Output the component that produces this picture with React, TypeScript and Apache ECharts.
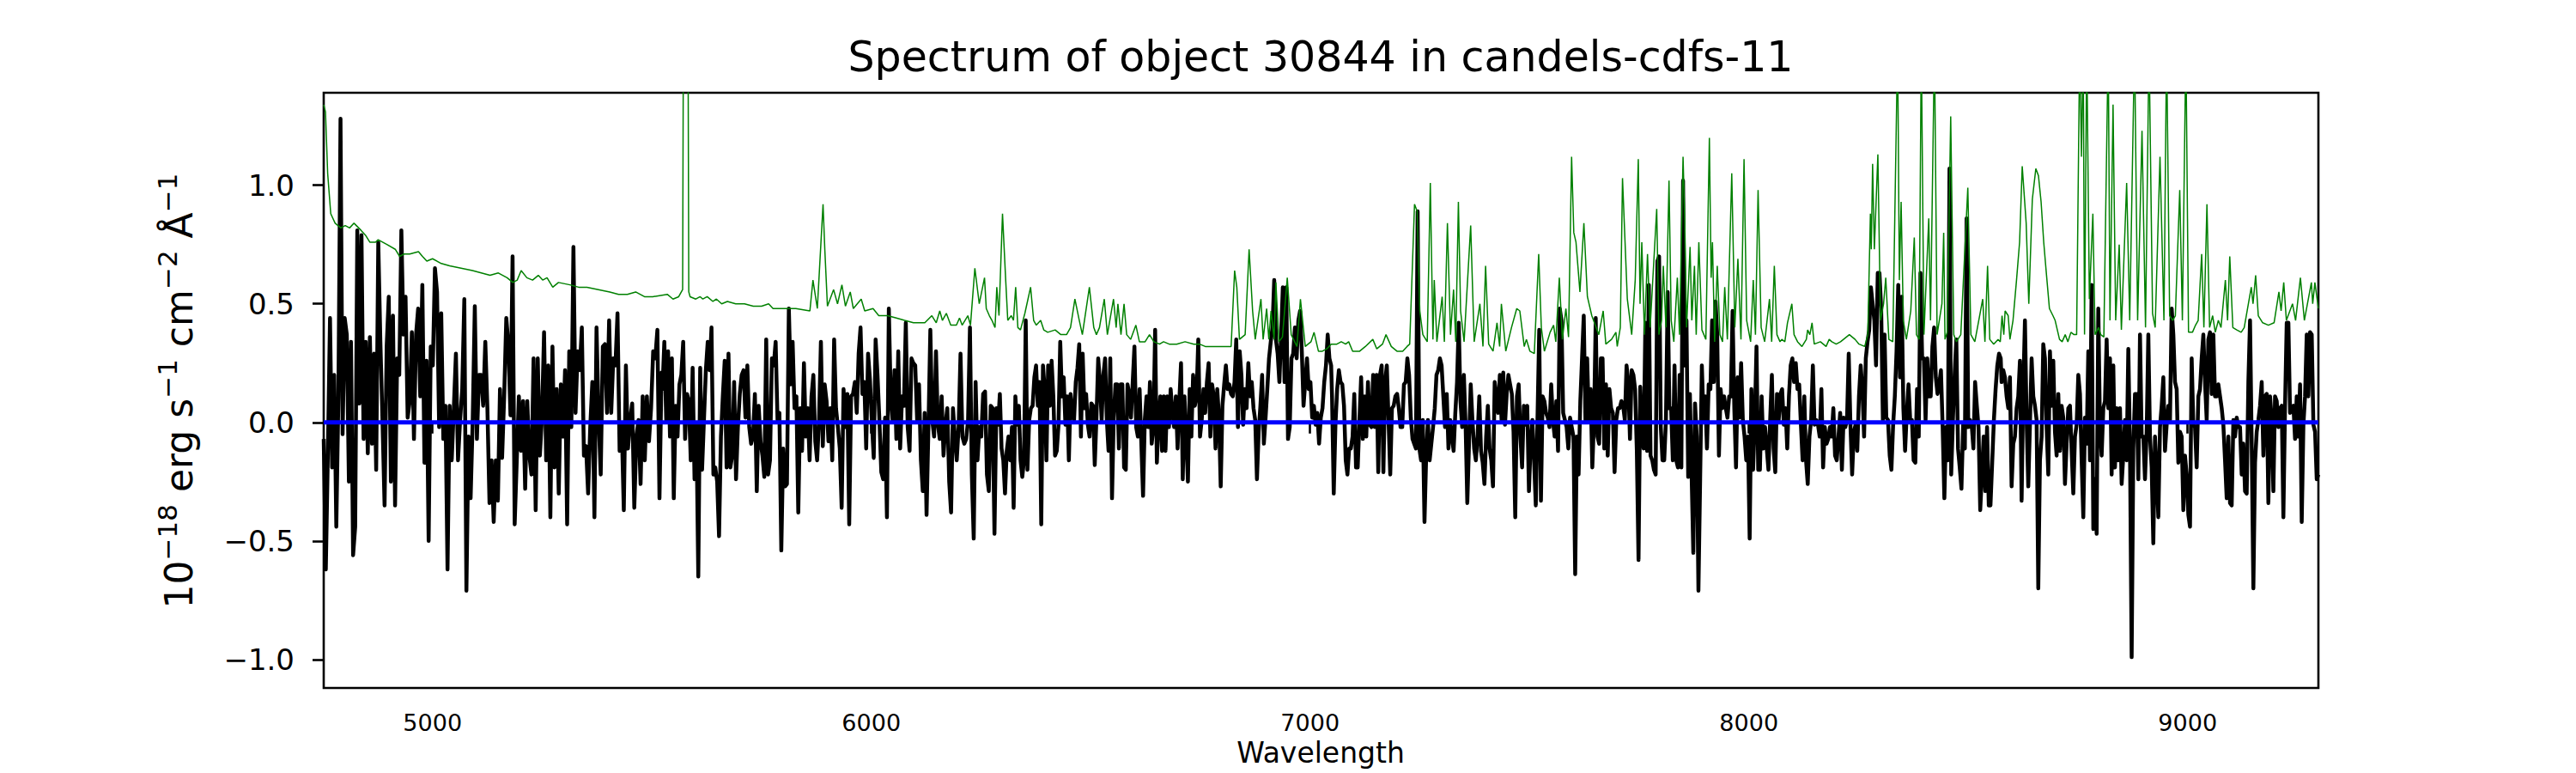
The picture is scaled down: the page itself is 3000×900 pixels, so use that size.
import React, { useEffect, useRef } from "react";
import * as echarts from "echarts";

const FONT = "DejaVu Sans";
const TITLE = "Spectrum of object 30844 in candels-cdfs-11";
const X_LABEL = "Wavelength";
const X_TICKS = [5000, 6000, 7000, 8000, 9000];
const Y_TICKS = [-1.0, -0.5, 0.0, 0.5, 1.0];
const WAVE_MIN = 4752;
const WAVE_MAX = 9298;
const FLUX_MIN = -1.12;
const FLUX_MAX = 1.39;
const ZERO_LEVEL = 0;

// flux, evenly spread over each wavelength stretch
const FLUX_A = [
  -0.07,-0.62,-0.12,0.44,-0.19,0.20,-0.44,0.11,1.28,-0.05,
  0.44,0.37,-0.25,0.34,-0.56,-0.44,0.81,0.08,0.79,-0.07,
  0.34,-0.13,0.36,-0.09,0.29,-0.20,0.76,0.34,0.01,-0.35,
  0.32,0.53,-0.25,0.45,-0.35,0.27,0.20,0.81,0.37,0.53,
  0.02,0.09,0.38,-0.07,0.37,0.48,0.11,0.58,-0.17,0.26,
  -0.50,0.32,0.24,0.65,0.55,-0.02,0.46,-0.07,0.07,-0.62,
  0.07,-0.16,0.06,0.29,-0.16,0.01,0.14,0.52,-0.71,-0.06,
  -0.32,0.01,0.49,-0.07,0.20,0.20,0.07,0.34,0.06,-0.34,
  -0.16,-0.42,-0.16,-0.33,0.14,-0.15,0.11,0.44,0.33,0.03,
  0.70,-0.43,-0.16,0.11,-0.12,0.09,-0.28,0.09,-0.14,-0.22,
  0.27,-0.37,0.27,-0.14,0.02,0.38,-0.16,0.24,-0.40,0.32,
  -0.19,0.14,-0.30,0.16,-0.06,0.22,-0.43,0.30,-0.02,0.74,
  0.04,0.30,0.22,0.40,-0.14,-0.10,-0.30,-0.02,0.17,-0.40,
  0.40,0.02,-0.22,0.32,0.33,0.04,0.43,0.04,0.27,0.24,
  0.46,-0.12,-0.01,-0.37,0.24,-0.11,0.01,0.08,-0.36,-0.06,
  0.01,-0.26,0.11,-0.16,0.11,-0.08,0.06,0.30,0.27,0.39,
  -0.32,0.21,
];
const FLUX_B = [
  0.14,0.34,0.01,0.30,-0.06,0.27,-0.32,0.07,-0.06,0.16,
  0.20,0.34,-0.07,0.12,0.09,-0.16,0.23,-0.24,-0.01,-0.65,
  0.23,-0.20,0.01,0.22,0.34,0.22,0.40,-0.22,-0.19,-0.25,
  -0.48,-0.06,0.11,0.26,-0.19,0.29,-0.19,-0.14,0.17,-0.24,
  -0.02,0.12,0.20,0.22,0.02,0.24,-0.02,-0.09,-0.06,0.12,
  -0.29,0.07,-0.08,-0.14,-0.23,0.35,-0.22,-0.16,0.27,0.24,
  0.34,0.01,0.04,-0.54,-0.11,-0.27,-0.26,0.48,0.16,0.34,
  0.06,0.11,-0.38,0.06,-0.12,0.25,-0.06,0.06,-0.16,0.11,
  0.20,-0.08,-0.16,0.01,0.34,-0.10,0.16,0.09,-0.08,0.06,
  -0.16,0.35,0.06,-0.02,-0.11,-0.36,0.14,-0.02,0.12,-0.43,
  0.11,0.12,0.17,0.04,0.29,0.40,0.12,0.17,-0.11,0.29,
  0.18,0.00,-0.15,0.35,0.20,0.01,-0.21,-0.24,0.02,-0.40,
  0.48,0.11,0.01,0.22,-0.07,0.30,-0.11,0.11,0.07,0.42,
  -0.02,-0.12,0.27,0.25,0.24,0.01,0.16,-0.16,-0.29,0.04,
  -0.39,-0.02,0.39,0.01,-0.06,0.30,-0.01,-0.07,0.11,-0.14,
  -0.01,0.06,-0.25,-0.38,0.06,-0.06,-0.16,-0.02,0.29,-0.06,
  -0.09,-0.07,0.01,0.40,-0.22,-0.49,0.17,-0.16,-0.02,-0.06,
  0.12,0.13,-0.22,-0.29,0.07,0.06,-0.47,0.06,
];
const FLUX_C = [
  -0.01,0.12,-0.11,-0.16,-0.30,-0.12,-0.06,-0.16,-0.02,-0.36,
  0.11,-0.01,0.07,-0.16,-0.23,-0.16,0.43,-0.20,0.01,0.06,
  0.07,0.19,0.24,0.07,0.17,-0.43,0.24,0.14,-0.16,0.24,
  0.07,0.26,0.11,-0.14,-0.12,-0.01,0.34,0.11,0.19,-0.01,
  0.11,-0.16,0.12,0.04,0.01,0.17,0.23,0.33,-0.06,0.29,
  0.06,0.12,-0.01,-0.06,0.08,0.07,-0.18,0.02,0.27,0.17,
  0.01,0.20,0.27,0.01,-0.12,0.27,-0.32,0.02,0.16,0.16,
  -0.11,0.16,0.16,-0.19,-0.20,0.16,0.12,0.02,0.17,0.32,
  -0.02,-0.06,0.14,-0.09,-0.31,0.01,0.11,-0.02,0.17,-0.09,
  -0.02,0.39,-0.17,0.01,0.11,-0.12,0.11,-0.12,0.11,-0.02,
  0.14,0.04,-0.02,0.11,-0.11,0.09,0.25,-0.24,0.11,-0.06,
  -0.25,0.14,-0.06,0.20,0.07,0.11,0.35,-0.06,0.01,0.14,
  0.04,0.17,0.25,-0.06,0.16,0.11,-0.11,0.14,0.02,-0.27,
  0.07,0.16,0.24,0.14,0.16,0.12,0.11,0.17,0.35,-0.02,
  0.30,0.20,-0.01,0.14,0.06,0.25,0.11,0.17,0.06,0.01,
  -0.24,-0.04,0.07,0.20,-0.09,0.02,0.14,0.27,0.34,0.40,
  0.60,0.35,0.29,0.17,0.37,0.57,0.17,0.57,-0.07,-0.02,
  0.27,0.29,0.40,0.27,0.43,0.47,0.30,0.07,0.17,0.27,
  0.14,0.17,0.02,0.07,-0.01,0.04,-0.09,0.02,0.06,0.17,
  0.24,0.37,0.27,0.24,
];
const FLUX_D = [
  0.11,-0.30,-0.01,0.14,0.22,0.17,0.16,0.07,-0.16,-0.22,
  -0.11,-0.11,-0.06,0.12,-0.19,-0.19,0.01,0.19,-0.07,0.11,
  -0.06,0.17,-0.01,-0.02,0.20,-0.02,0.20,-0.21,0.20,0.24,
  -0.21,0.17,0.24,0.01,-0.22,0.06,0.07,0.11,0.12,0.06,
  -0.02,-0.02,0.16,0.17,0.27,0.20,0.02,-0.07,-0.09,-0.11,
  0.89,-0.11,-0.16,0.01,-0.42,-0.14,0.01,-0.16,-0.09,-0.02,
  0.06,0.20,0.22,0.27,0.24,0.11,-0.02,0.12,-0.11,0.01,
  -0.06,-0.12,0.04,0.17,0.42,0.09,-0.02,0.20,-0.01,-0.34,
  -0.09,0.16,0.01,-0.11,-0.16,-0.06,0.11,-0.12,-0.17,-0.26,
  -0.06,0.07,-0.11,-0.16,-0.27,0.17,0.11,0.04,0.20,0.01,
  0.21,-0.01,0.12,0.20,0.16,0.12,-0.04,-0.40,0.11,0.16,
  -0.06,-0.19,0.07,-0.01,0.07,-0.29,-0.09,0.01,-0.16,-0.35,
  0.02,0.39,-0.33,0.11,0.09,0.04,0.02,-0.02,0.16,0.01,
  -0.06,0.09,-0.12,0.48,0.43,0.04,0.01,-0.02,-0.11,0.02,
  -0.02,-0.06,-0.64,-0.06,-0.22,0.09,0.27,0.45,0.01,0.27,
  0.01,0.14,-0.19,0.01,0.44,-0.06,-0.09,0.27,0.27,-0.11,
  0.16,-0.14,0.14,0.06,0.04,-0.21,0.01,0.06,0.06,0.09,
  0.07,0.01,0.24,0.17,-0.07,0.22,0.20,0.14,-0.12,-0.58,
  0.15,-0.06,-0.11,0.42,-0.12,0.58,-0.14,-0.16,-0.20,-0.22,
  0.68,0.70,-0.02,-0.16,-0.16,0.01,
];
const FLUX_E = [
  0.55,0.06,0.06,-0.16,0.24,-0.16,-0.19,0.20,-0.19,1.02,
  0.24,0.43,-0.23,0.12,-0.22,-0.55,0.08,-0.06,-0.71,-0.24,
  0.24,0.01,0.11,-0.11,0.16,0.14,0.43,0.17,0.51,0.37,
  -0.14,0.14,0.06,0.11,0.06,0.02,0.11,0.11,0.47,0.06,
  -0.19,0.19,0.02,0.25,0.01,-0.06,-0.16,-0.06,-0.49,0.14,
  -0.20,0.01,0.32,-0.20,-0.20,0.11,-0.11,-0.02,-0.11,-0.20,
  0.01,0.20,-0.11,-0.21,0.12,0.01,0.12,0.14,-0.01,0.06,
  -0.11,0.11,0.24,0.27,0.17,0.25,0.14,0.16,-0.01,-0.16,
  0.11,-0.16,-0.26,-0.06,0.01,0.24,-0.01,0.01,-0.01,-0.06,
  0.14,-0.19,-0.02,-0.09,-0.07,-0.02,-0.06,0.06,-0.14,-0.16,
  -0.06,0.04,-0.20,0.02,-0.02,0.01,0.29,-0.01,-0.22,-0.04,
  -0.01,-0.12,0.11,0.24,0.14,-0.06,0.27,0.34,0.39,0.57,
  0.50,0.43,0.24,0.63,0.63,0.48,0.01,0.37,0.02,0.01,
  -0.14,-0.20,-0.01,0.11,0.30,0.58,0.19,0.53,0.06,-0.12,
  0.04,0.16,0.01,0.01,-0.16,-0.17,0.14,-0.06,0.63,0.27,
  0.27,0.01,0.27,0.11,0.11,0.32,0.40,0.19,0.12,0.16,
  0.22,-0.02,-0.32,-0.02,-0.16,1.07,-0.22,0.01,0.20,0.35,
  -0.11,-0.19,-0.28,-0.01,-0.11,0.86,-0.02,0.01,-0.01,-0.11,
  0.17,0.07,-0.02,-0.37,-0.22,-0.06,-0.29,-0.02,-0.35,-0.35,
  -0.17,0.01,0.14,0.24,0.29,0.27,
];
const FLUX_F = [
  0.17,0.22,0.19,0.11,0.06,0.19,-0.27,-0.09,-0.06,0.06,
  0.11,0.26,-0.33,0.14,0.43,0.01,-0.27,-0.01,0.27,0.11,
  0.07,0.01,-0.70,-0.16,-0.06,0.33,0.27,-0.02,-0.22,0.30,
  0.07,0.26,-0.04,-0.14,0.12,-0.12,0.07,0.02,-0.26,-0.09,
  0.06,0.07,-0.12,-0.30,-0.06,-0.01,0.20,0.12,-0.16,-0.40,
  0.02,-0.09,0.30,-0.16,0.58,-0.45,-0.24,-0.47,0.48,-0.02,
  -0.14,0.06,0.09,0.35,0.06,0.27,-0.22,0.24,-0.19,0.06,
  -0.16,0.06,-0.26,-0.14,0.01,-0.16,0.31,-0.11,-0.99,-0.11,
  0.12,0.12,-0.24,0.37,-0.06,-0.06,-0.24,-0.04,0.37,-0.06,
  -0.19,-0.51,-0.06,-0.22,-0.40,-0.02,0.07,0.19,-0.12,-0.01,
  0.07,0.01,0.48,0.37,0.17,0.14,-0.17,-0.04,-0.06,-0.37,
  -0.14,-0.22,-0.39,-0.44,0.27,-0.01,-0.02,-0.19,0.11,0.14,
  0.27,0.37,0.17,0.01,0.35,0.38,0.12,0.37,0.11,0.11,
  0.16,0.11,0.06,-0.01,-0.16,-0.32,-0.06,-0.34,-0.35,0.01,
  -0.06,0.02,-0.02,-0.02,-0.22,-0.09,-0.29,-0.30,0.17,0.43,
  -0.09,-0.70,-0.17,-0.04,0.01,0.07,0.17,-0.14,0.11,0.12,
  -0.34,0.11,0.01,-0.29,0.11,0.09,-0.02,0.06,0.07,-0.40,
  0.07,0.42,0.42,0.04,0.06,0.07,-0.07,0.11,-0.06,0.16,
  -0.42,-0.01,0.11,0.37,0.11,0.38,0.37,-0.01,-0.04,-0.24,
  -0.22,
];
// wavelength stretch [from, to] covered by each flux array
const FLUX_RANGES: [number, number][] = [
  [4752, 5522], [5524, 6285], [6289, 7048], [7050, 7811], [7815, 8574], [8576, 9298],
];
const FLUX_PARTS = [FLUX_A, FLUX_B, FLUX_C, FLUX_D, FLUX_E, FLUX_F];

// noise / sky spectrum: [wavelength, value]
const NOISE: [number, number][] = [
  [4752,1.34],[4756,1.31],[4761,1.05],[4768,0.88],[4778,0.84],[4791,0.82],[4801,0.83],[4811,0.82],[4821,0.84],[4837,0.81],
  [4847,0.79],[4857,0.76],[4870,0.76],[4876,0.77],[4896,0.75],[4915,0.73],[4925,0.70],[4935,0.71],[4948,0.71],[4968,0.72],
  [4977,0.70],[4987,0.68],[5000,0.69],[5020,0.67],[5039,0.66],[5065,0.65],[5091,0.64],[5111,0.63],[5131,0.62],[5150,0.63],
  [5170,0.61],[5183,0.59],[5193,0.60],[5202,0.64],[5215,0.61],[5228,0.60],[5241,0.62],[5251,0.60],[5261,0.61],[5274,0.57],
  [5287,0.59],[5313,0.58],[5333,0.57],[5352,0.57],[5378,0.56],[5404,0.55],[5424,0.54],[5444,0.54],[5463,0.55],[5483,0.53],
  [5502,0.53],[5535,0.54],[5548,0.52],[5561,0.53],[5570,0.56],[5573,2.5],[5581,2.5],[5584,0.55],[5587,0.53],[5600,0.52],
  [5610,0.53],[5616,0.52],[5626,0.53],[5639,0.51],[5647,0.52],[5659,0.50],[5672,0.51],[5691,0.50],[5711,0.50],[5731,0.49],
  [5750,0.49],[5766,0.50],[5776,0.48],[5789,0.48],[5809,0.48],[5828,0.48],[5860,0.47],[5867,0.60],[5877,0.48],[5890,0.92],
  [5894,0.73],[5900,0.49],[5914,0.56],[5923,0.50],[5933,0.58],[5941,0.49],[5952,0.55],[5959,0.48],[5977,0.52],[5985,0.47],
  [6004,0.48],[6017,0.45],[6037,0.45],[6057,0.44],[6076,0.43],[6096,0.42],[6122,0.42],[6138,0.45],[6148,0.42],[6156,0.47],
  [6162,0.43],[6171,0.46],[6181,0.41],[6194,0.41],[6201,0.44],[6207,0.41],[6220,0.45],[6226,0.41],[6236,0.65],[6246,0.50],
  [6258,0.61],[6262,0.48],[6269,0.45],[6275,0.43],[6282,0.40],[6286,0.57],[6291,0.45],[6299,0.88],[6306,0.61],[6311,0.43],
  [6319,0.45],[6324,0.43],[6329,0.57],[6334,0.40],[6340,0.39],[6350,0.46],[6363,0.57],[6370,0.43],[6376,0.41],[6386,0.43],
  [6393,0.39],[6402,0.38],[6419,0.39],[6432,0.37],[6445,0.37],[6454,0.40],[6464,0.52],[6474,0.43],[6481,0.37],[6497,0.57],
  [6507,0.40],[6513,0.37],[6520,0.40],[6531,0.52],[6538,0.37],[6552,0.52],[6558,0.40],[6562,0.50],[6569,0.37],[6576,0.50],
  [6582,0.37],[6591,0.35],[6603,0.41],[6611,0.34],[6624,0.34],[6634,0.37],[6644,0.34],[6657,0.33],[6666,0.34],[6679,0.33],
  [6696,0.33],[6715,0.34],[6735,0.33],[6748,0.33],[6761,0.32],[6787,0.32],[6807,0.32],[6820,0.32],[6828,0.64],[6833,0.57],
  [6839,0.35],[6852,0.37],[6861,0.73],[6869,0.47],[6875,0.35],[6888,0.52],[6893,0.35],[6901,0.48],[6906,0.35],[6911,0.47],
  [6918,0.35],[6922,0.59],[6929,0.34],[6937,0.36],[6948,0.61],[6957,0.37],[6970,0.32],[6978,0.52],[6989,0.32],[7002,0.34],
  [7009,0.38],[7019,0.30],[7028,0.30],[7038,0.31],[7048,0.33],[7061,0.33],[7071,0.34],[7081,0.33],[7088,0.34],[7097,0.30],
  [7113,0.30],[7126,0.32],[7143,0.35],[7152,0.31],[7165,0.33],[7173,0.37],[7185,0.32],[7198,0.30],[7211,0.30],[7221,0.32],
  [7227,0.33],[7238,0.92],[7244,0.89],[7250,0.47],[7257,0.37],[7267,0.34],[7274,1.01],[7280,0.35],[7283,0.60],[7289,0.34],
  [7301,0.53],[7306,0.34],[7313,0.84],[7320,0.37],[7327,0.56],[7332,0.34],[7338,0.93],[7343,0.47],[7351,0.34],[7366,0.83],
  [7374,0.34],[7387,0.50],[7394,0.32],[7400,0.66],[7407,0.33],[7417,0.30],[7426,0.42],[7432,0.32],[7436,0.50],[7446,0.30],
  [7459,0.40],[7471,0.48],[7478,0.47],[7488,0.32],[7493,0.35],[7501,0.30],[7511,0.29],[7521,0.71],[7527,0.40],[7534,0.30],
  [7547,0.38],[7555,0.41],[7560,0.34],[7568,0.61],[7575,0.35],[7583,0.48],[7589,0.36],[7596,1.12],[7601,0.80],[7606,0.76],
  [7615,0.55],[7624,0.84],[7632,0.53],[7642,0.45],[7658,0.37],[7668,0.47],[7674,0.33],[7687,0.35],[7697,0.38],[7700,0.32],
  [7707,0.40],[7712,1.03],[7723,0.52],[7733,0.37],[7741,0.60],[7748,1.11],[7752,0.50],[7756,0.76],[7762,0.37],[7769,0.71],
  [7775,0.40],[7790,0.90],[7795,0.37],[7801,0.43],[7805,0.66],[7811,0.40],[7818,1.02],[7823,0.43],[7829,0.34],[7837,0.61],
  [7842,0.37],[7850,1.12],[7854,0.84],[7858,0.40],[7866,0.74],[7870,0.43],[7876,0.66],[7880,0.37],[7886,0.76],[7893,0.39],
  [7902,0.35],[7910,1.20],[7914,0.61],[7917,0.76],[7922,0.34],[7928,0.66],[7934,0.37],[7940,0.34],[7945,0.57],[7951,0.35],
  [7961,1.05],[7968,0.40],[7975,0.69],[7982,0.35],[7989,1.11],[7995,0.43],[8004,0.34],[8010,0.60],[8015,0.37],[8021,0.98],
  [8028,0.40],[8036,0.34],[8047,0.52],[8052,0.34],[8058,0.66],[8064,0.37],[8071,0.34],[8075,0.35],[8082,0.34],[8088,0.42],
  [8098,0.50],[8103,0.37],[8111,0.34],[8121,0.32],[8131,0.35],[8134,0.39],[8139,0.37],[8144,0.42],[8149,0.33],[8163,0.34],
  [8176,0.32],[8183,0.35],[8189,0.34],[8199,0.33],[8209,0.34],[8229,0.37],[8242,0.35],[8251,0.33],[8264,0.32],[8271,0.37],
  [8277,0.88],[8279,0.73],[8282,1.09],[8286,0.73],[8294,1.13],[8300,0.43],[8307,0.50],[8312,0.61],[8319,0.35],[8328,0.34],
  [8339,1.60],[8343,0.60],[8347,0.93],[8352,0.43],[8359,0.35],[8369,0.47],[8377,0.78],[8382,0.37],[8388,0.35],[8393,1.60],
  [8399,0.37],[8410,0.86],[8414,0.43],[8423,1.60],[8429,0.37],[8440,0.50],[8444,0.80],[8447,0.35],[8452,0.38],[8460,1.29],
  [8467,0.37],[8473,0.34],[8483,0.37],[8499,0.99],[8506,0.37],[8515,0.34],[8533,0.52],[8538,0.34],[8544,0.66],[8549,0.35],
  [8558,0.33],[8568,0.35],[8573,0.34],[8577,0.45],[8581,0.37],[8584,0.47],[8591,0.45],[8595,0.35],[8602,0.43],[8610,0.60],
  [8617,0.76],[8623,1.08],[8632,0.84],[8638,0.50],[8646,0.94],[8654,1.07],[8660,1.04],[8666,0.93],[8672,0.76],[8677,0.65],
  [8685,0.48],[8693,0.45],[8698,0.43],[8708,0.35],[8714,0.34],[8721,0.37],[8727,0.34],[8734,0.38],[8741,0.37],[8747,0.37],
  [8754,1.60],[8758,1.12],[8762,1.60],[8765,0.37],[8770,1.60],[8776,0.52],[8784,0.88],[8789,0.37],[8797,0.40],[8802,0.37],
  [8809,0.36],[8819,1.60],[8823,0.43],[8830,1.34],[8836,0.43],[8844,0.75],[8849,0.39],[8861,1.01],[8868,0.43],[8879,1.60],
  [8886,0.43],[8896,1.23],[8904,0.40],[8912,1.60],[8920,0.46],[8926,0.40],[8937,1.12],[8946,0.43],[8952,1.60],[8959,0.45],
  [8966,0.43],[8972,0.45],[8982,0.98],[8988,0.43],[8996,1.60],[9002,0.38],[9011,0.38],[9018,0.41],[9024,0.43],[9032,0.71],
  [9037,0.40],[9044,0.92],[9050,0.40],[9057,0.45],[9063,0.38],[9070,0.43],[9076,0.40],[9086,0.60],[9091,0.43],[9096,0.70],
  [9103,0.40],[9112,0.39],[9122,0.38],[9129,0.40],[9145,0.57],[9149,0.50],[9155,0.62],[9161,0.45],[9171,0.42],[9184,0.41],
  [9197,0.42],[9208,0.55],[9213,0.47],[9219,0.59],[9225,0.43],[9239,0.50],[9246,0.43],[9257,0.61],[9266,0.43],[9282,0.59],
  [9285,0.50],[9290,0.59],[9298,0.48],
];

function buildFlux(): [number, number][] {
  const out: [number, number][] = [];
  FLUX_PARTS.forEach((vals, k) => {
    const [from, to] = FLUX_RANGES[k];
    const n = vals.length;
    vals.forEach((v, i) => {
      out.push([from + ((to - from) * i) / (n - 1), v]);
    });
  });
  return out;
}

const fmtY = (v: number) => {
  const s = Math.abs(v).toFixed(1);
  return v < 0 ? "\u2212" + s : s;
};

export default function App() {
  const ref = useRef<HTMLDivElement>(null);
  useEffect(() => {
    if (!ref.current) return;
    const chart = echarts.init(ref.current, null, { renderer: "svg" });
    const option: any = {
      animation: false,
      backgroundColor: "#ffffff",
      grid: {
        left: 377,
        top: 108,
        width: 2323,
        height: 693,
        show: true,
        borderColor: "#000000",
        borderWidth: 2.6,
        backgroundColor: "transparent",
        containLabel: false,
        outerBoundsMode: "none",
      },
      xAxis: {
        type: "value",
        min: WAVE_MIN,
        max: WAVE_MAX,
        axisLine: { show: false },
        axisTick: {
          show: true,
          inside: false,
          length: 13,
          lineStyle: { color: "#000000", width: 2.6 },
          customValues: X_TICKS,
        },
        axisLabel: {
          show: true,
          customValues: X_TICKS,
          fontSize: 27,
          fontFamily: FONT,
          color: "#000000",
          margin: 27,
          formatter: (v: number) => String(v),
        },
        splitLine: { show: false },
      },
      yAxis: {
        type: "value",
        min: FLUX_MIN,
        max: FLUX_MAX,
        axisLine: { show: false },
        axisTick: {
          show: true,
          inside: false,
          length: 13,
          lineStyle: { color: "#000000", width: 2.6 },
          customValues: Y_TICKS,
        },
        axisLabel: {
          show: true,
          customValues: Y_TICKS,
          fontSize: 34,
          fontFamily: FONT,
          color: "#000000",
          margin: 34,
          formatter: (v: number) => fmtY(v),
        },
        splitLine: { show: false },
      },
      graphic: [
        {
          type: "text",
          x: 1538,
          y: 66,
          silent: true,
          style: {
            text: TITLE,
            fontSize: 49,
            fontFamily: FONT,
            fill: "#000000",
            align: "center",
            verticalAlign: "middle",
          },
        },
        {
          type: "text",
          x: 1538,
          y: 876,
          silent: true,
          style: {
            text: X_LABEL,
            fontSize: 33,
            fontFamily: FONT,
            fill: "#000000",
            align: "center",
            verticalAlign: "middle",
          },
        },
        {
          type: "text",
          x: 205,
          y: 455,
          rotation: Math.PI / 2,
          silent: true,
          style: {
            text: "{n|10}{s|\u221218}{g| }{n|erg}{g| }{n|s}{s|\u22121}{g| }{n|cm}{s|\u22122}{g| }{n|\u00c5}{s|\u22121}",
            fontSize: 44,
            fontFamily: FONT,
            fill: "#000000",
            align: "center",
            verticalAlign: "middle",
            rich: {
              n: { fontSize: 44, lineHeight: 44, verticalAlign: "bottom", fontFamily: FONT, fill: "#000000" },
              s: { fontSize: 31, lineHeight: 31, verticalAlign: "top", fontFamily: FONT, fill: "#000000" },
              g: { fontSize: 44, lineHeight: 51, fontFamily: FONT, fill: "#000000" },
            },
          },
        },
      ],
      series: [
        {
          name: "flux",
          type: "line",
          data: buildFlux(),
          showSymbol: false,
          symbol: "none",
          clip: true,
          silent: true,
          emphasis: { disabled: true },
          lineStyle: { color: "#000000", width: 4.5, join: "round" },
          z: 2,
        },
        {
          name: "noise",
          type: "line",
          data: NOISE,
          showSymbol: false,
          symbol: "none",
          clip: true,
          silent: true,
          emphasis: { disabled: true },
          lineStyle: { color: "#008000", width: 1.5 },
          z: 3,
        },
        {
          name: "zero",
          type: "line",
          data: [
            [WAVE_MIN, ZERO_LEVEL],
            [WAVE_MAX, ZERO_LEVEL],
          ],
          showSymbol: false,
          symbol: "none",
          clip: true,
          silent: true,
          emphasis: { disabled: true },
          lineStyle: { color: "#0000ff", width: 5 },
          z: 4,
        },
      ],
    };
    chart.setOption(option);
    return () => chart.dispose();
  }, []);
  return (
    <div
      ref={ref}
      style={{ position: "fixed", left: 0, top: 0, width: 3000, height: 900, background: "#ffffff" }}
    />
  );
}
